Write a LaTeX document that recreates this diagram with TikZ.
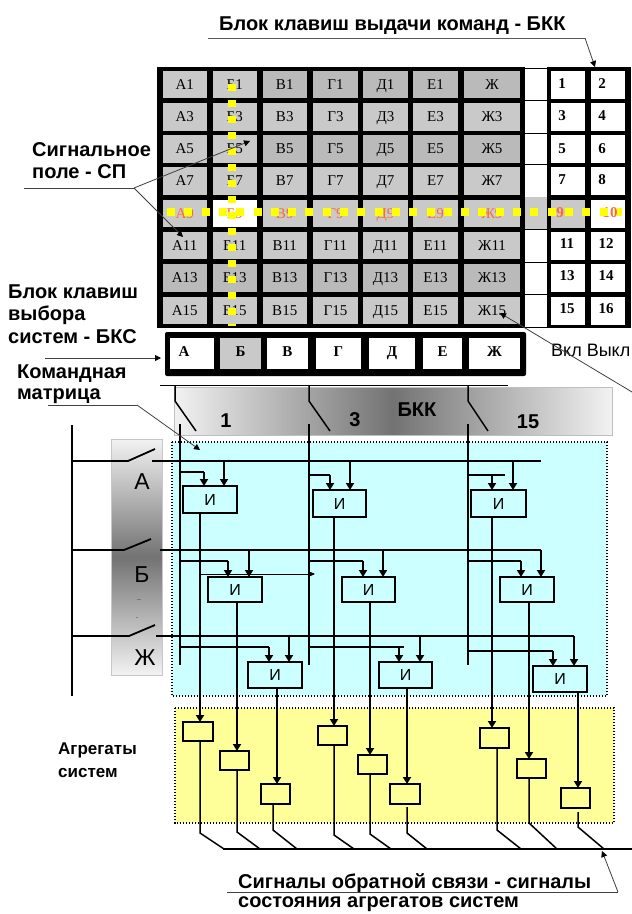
\documentclass[tikz,border=0pt]{standalone}
\usepackage{fontspec}
\setmainfont{Liberation Sans}
\newfontfamily\serf{Liberation Serif}
\usetikzlibrary{arrows.meta}
\definecolor{cellgrey}{HTML}{C9C9C9}
\definecolor{celldark}{HTML}{BABABA}
\definecolor{cyanbg}{HTML}{CCFFFF}
\definecolor{yelbg}{HTML}{FFFF99}
\definecolor{orng}{HTML}{FF6A2A}
\definecolor{sigyel}{HTML}{FFFF00}
\tikzset{
 x=1pt,y=-1pt,
 cellbox/.style={inner sep=0,outer sep=0,text height=10pt,text depth=1pt,font=\serf\fontsize{15}{15}\selectfont},
 numtext/.style={inner sep=0,text height=10pt,text depth=1pt,font=\serf\bfseries\fontsize{15}{15}\selectfont},
 lab/.style={inner sep=0,anchor=west,font=\bfseries\fontsize{20}{20}\selectfont},
 biglab/.style={inner sep=0,font=\bfseries\fontsize{20}{20}\selectfont},
 letter/.style={inner sep=0,font=\fontsize{23}{23}\selectfont},
 sig/.style={line width=1.8pt,black},
 sigarrow/.style={sig,-{Triangle[length=7pt,width=8pt]}},
 thinarrow/.style={line width=.8pt,black!75,-{Triangle[length=6pt,width=6pt,black]}},
 thinline/.style={line width=.8pt,black!75},
 andbox/.style={draw=black,line width=1.8pt,fill=cyanbg,inner sep=0,outer sep=0,font=\fontsize{16}{16}\selectfont},
 unitbox/.style={draw=black,line width=1.8pt,fill=yelbg,inner sep=0,outer sep=0},
 dotregion/.style={draw=black,line width=1.4pt,dash pattern=on 1.4pt off 1.6pt},
 yeldash/.style={line width=7.5pt,sigyel},
}
\begin{document}
\begin{tikzpicture}
\useasboundingbox (0,0) rectangle (632,914);
\fill[white] (0,0) rectangle (632,914);
% ---- signal field
\fill[black] (157,67) rectangle (525,328);
\fill[black] (547,67) rectangle (631,328);
\foreach \gy in {68,100,133,164,197,229,262,294,327}{\draw[line width=.8pt] (525,\gy) -- (547,\gy);}
\fill[cellgrey] (525,197) rectangle (547,229);
\foreach \r/\ya/\yb/\dk/\tc in {1/71/98/3/black,3/103/131/99/black,5/135/163/3/black,7/167/195/99/black,9/200/227/99/orng,11/232/259/99/black,13/264/292/1/black,15/297/324/99/black}{
 \foreach \col/\xa/\xb/\lb in {1/162.5/207/А,2/212.5/257/Б,3/262.5/307/В,4/313/358/Г,5/363/408/Д,6/413/458/Е,7/464/520/Ж}{
  \ifnum\col<\dk\def\cfill{cellgrey}\else\def\cfill{celldark}\fi
  \ifnum\numexpr\r*100+\col\relax=902\def\cfill{white}\fi
  \node[cellbox,fill=\cfill,text=\tc,minimum width={(\xb-\xa)*1pt},minimum height={(\yb-\ya)*1pt}] (c\r-\col) at ({(\xa+\xb)/2},{(\ya+\yb)/2}) {\lb\ifnum\numexpr\r*100+\col\relax=107 \else\r\fi};
 }
}
\foreach \n/\cx/\cy/\tx/\ty/\fc/\tc in {
 1/551/585/562/84/white/black,2/591/625/602/84/white/black,
 3/551/585/562/116/white/black,4/591/625/602/116/white/black,
 5/551/585/562/149/white/black,6/591/625/602/149/white/black,
 7/551/585/562/180/white/black,8/591/625/602/180/white/black,
 9/551/585/560/213/cellgrey/orng,10/591/625/610/213/white/orng,
 11/551/585/567/244/white/black,12/591/625/606/244/white/black,
 13/551/585/567/276/white/black,14/591/625/606/276/white/black,
 15/551/585/567/309/white/black,16/591/625/606/309/white/black}{
 \pgfmathsetmacro\tp{\ty<100?71:(\ty<130?103:(\ty<160?135:(\ty<190?167:(\ty<220?200:(\ty<250?232:(\ty<285?264:297))))))}
 \fill[\fc] (\cx,\tp) rectangle (\cy,\tp+27.5);
 \node[numtext,text=\tc] (k\n) at (\tx,\ty) {\n};
}
\draw[yeldash,dash pattern=on 7pt off 9pt] (232,84) -- (232,326);
\draw[yeldash,dash pattern=on 8pt off 9.3pt] (167,212) -- (622,212);
% ---- BKS block
\fill[black,rounded corners=2pt] (165,332) rectangle (526,376);
\foreach \n/\xa/\xb/\lb/\fc in {1/170/214/А/white,2/220/261/Б/cellgrey,3/267/308/В/white,4/316/361/Г/white,5/369/415/Д/white,6/423/462/Е/white,7/469/520/Ж/white}{
 \fill[\fc] (\xa,338) rectangle (\xb,369);
 \node[numtext] (s\n) at ({(\xa+\xb)/2-(\n==1?8:0)},352) {\lb};
}
% ---- BKK bar
\shade[left color=white!95!black,right color=white!95!black,middle color=black!55] (174,387) rectangle (612,435);
\draw[black!25,line width=.8pt] (174,387) rectangle (612,435);
\draw[line width=1.6pt] (160,385.5) -- (508,385.5);
\foreach \bx/\dx in {175/196,309/330,468/488}{
 \draw[line width=1.5pt] (\bx,386) -- (\bx,401) -- (\dx,431);
}
\node[biglab] (n1) at (226,421) {1};
\node[biglab] (n3) at (355,420) {3};
\node[biglab] (nb) at (417,410) {БКК};
\node[biglab] (n15) at (528,422) {15};
% ---- regions
\fill[cyanbg] (172,442) rectangle (607,696);
\draw[dotregion] (172,442) rectangle (607,696);
\fill[yelbg] (175,708) rectangle (614,823);
\draw[dotregion] (175,708) rectangle (614,823);
% ---- left switch bar
\shade[top color=white!95!black,bottom color=white!95!black,middle color=black!55] (111,439) rectangle (162,675);
\draw[black!22,line width=.8pt] (111,439) rectangle (162,675);
\node[letter] (sa) at (142,482) {А};
\node[letter] (sb) at (142,575) {Б};
\node[inner sep=0,font=\fontsize{7}{7}\selectfont] (sd1) at (139,600) {..};
\node[inner sep=0,font=\fontsize{7}{7}\selectfont] (sd2) at (137,618) {.};
\node[letter] (sz) at (145,658) {Ж};
% ---- buses
\draw[sig] (72,425) -- (72,696);
\foreach \bx in {180,309,468}{\draw[sig] (\bx,424) -- (\bx,665);}
\draw[sig] (72,461) -- (128,461) -- (155,449);
\draw[sig] (152,461) -- (541,461);
\draw[sig] (72,550) -- (124,550) -- (151,539);
\draw[sig] (160,550) -- (541,550);
\draw[sig] (72,636) -- (129,636) -- (155,625);
\draw[sig] (156,636) -- (574,636);
% ---- AND boxes and units
\foreach \n/\xa/\ya/\xb/\yb in {1/183/486/237/513,2/313/490/366/517,3/471/490/526/517,4/208/577/262/602,5/342/577/395/602,6/500/577/554/602,7/248/662/302/688,8/379/662/432/688,9/533/666/587/692}{
 \node[andbox,minimum width={(\xb-\xa)*1pt},minimum height={(\yb-\ya)*1pt}] (i\n) at ({(\xa+\xb)/2},{(\ya+\yb)/2}) {И};
}
\foreach \n/\xa/\ya/\xb/\yb in {1/183/722/213/741,2/220/751/249/770,3/261/784/290/804,4/318/726/347/745,5/358/755/387/774,6/390/784/420/804,7/480/728/509/748,8/517/759/546/778,9/561/788/590/808}{
 \node[unitbox,minimum width={(\xb-\xa)*1pt},minimum height={(\yb-\ya)*1pt}] (a\n) at ({(\xa+\xb)/2},{(\ya+\yb)/2}) {};
}
% inputs: bus, tap y, tap end, first input x, second input x, row y
\foreach \n/\bus/\tapy/\tapend/\inA/\inB/\rowy in {1/180/472/204/204/224/461,2/309/475/330/330/350/461,3/468/475/505/492/513/461,4/180/561/228/228/249/550,5/309/561/363/363/383/550,6/468/561/521/521/541/550,7/180/647/269/269/289/636,8/309/647/404/399/420/636,9/468/651/553/553/574/636}{
 \draw[sig] (\bus,\tapy) -- (\tapend,\tapy);
 \draw[sigarrow] (\inA,\tapy) -- (\inA,0 |- i\n.north);
 \draw[sigarrow] (\inB,\rowy) -- (\inB,0 |- i\n.north);
}
% outputs to units and feedback: AND box, unit, arrow x, out x, gap, elbow y, diagonal end x
\foreach \m/\n/\ix/\ox/\gap/\ely/\dx in {1/1/200/200/0/833/224,4/2/237/237/0/832/260,7/3/277/273/0/830/297,2/4/334/334/0/835/354,5/5/370/370/0/834/391,8/6/407/407/3/833/427,3/7/492/497/0/830/521,6/8/529/529/0/823/557,9/9/578/578/4/827/604}{
 \draw[sigarrow] (\ix,0 |- i\m.south) -- (\ix,0 |- a\n.north);
 \draw[line width=1.5pt] ([yshift=-\gap pt]\ox,0 |- a\n.south) -- (\ox,\ely) -- (\dx,849);
}
\coordinate (fbl) at (223,849);
\coordinate (fbr) at (632,849);
\draw[sig] (fbl) -- (fbr);
\draw[line width=.9pt,-{Triangle[length=7pt,width=6pt]}] (201,574) -- (315,574);
% ---- captions
\node[lab] (t1) at (219,26) {Блок клавиш выдачи команд - БКК};
\coordinate (t1a) at (208,38); \coordinate (t1b) at (585,38); \coordinate (t1c) at (595,67);
\draw[line width=1pt,black!65] (t1a) -- (t1b);
\draw[thinarrow] (t1b) -- (t1c);
\node[lab] (t2) at (32,150) {Сигнальное};
\node[lab] (t3) at (32,172) {поле - СП};
\coordinate (t2a) at (24,188); \coordinate (t2b) at (134,188);
\coordinate (t2c) at (250,141); \coordinate (t2d) at (183,237);
\draw[thinline] (t2a) -- (t2b);
\draw[thinarrow] (t2b) -- (t2c);
\draw[thinarrow] (t2b) -- (t2d);
\node[lab] (t4) at (8,292) {Блок клавиш};
\node[lab] (t5) at (8,315) {выбора};
\node[lab] (t6) at (8,337) {систем - БКС};
\coordinate (t4a) at (45,358);
\draw[thinarrow] (t4a) -- (161,358);
\node[inner sep=0,anchor=west,font=\fontsize{18}{18}\selectfont] (t7) at (551,350) {Вкл Выкл};
\coordinate (t7a) at (632,392);
\draw[thinarrow] (t7a) -- (500,313);
\node[lab] (t8) at (17,374) {Командная};
\node[lab] (t9) at (17,396) {матрица};
\coordinate (t9a) at (48,405); \coordinate (t9b) at (137,405);
\draw[thinline] (t9a) -- (t9b);
\draw[thinarrow] (t9b) -- (200,450);
\node[inner sep=0,anchor=west,font=\bfseries\fontsize{17}{17}\selectfont] (t10) at (58,750) {Агрегаты};
\node[inner sep=0,anchor=west,font=\bfseries\fontsize{17}{17}\selectfont] (t11) at (58,773) {систем};
\node[lab] (t12) at (238,883) {Сигналы обратной связи - сигналы};
\node[lab] (t13) at (238,904) {состояния агрегатов систем};
\coordinate (t12a) at (227,892); \coordinate (t12b) at (618,892);
\draw[thinline] (t12a) -- (t12b);
\draw[thinarrow] (t12b) -- (602,851);
\end{tikzpicture}
\end{document}
